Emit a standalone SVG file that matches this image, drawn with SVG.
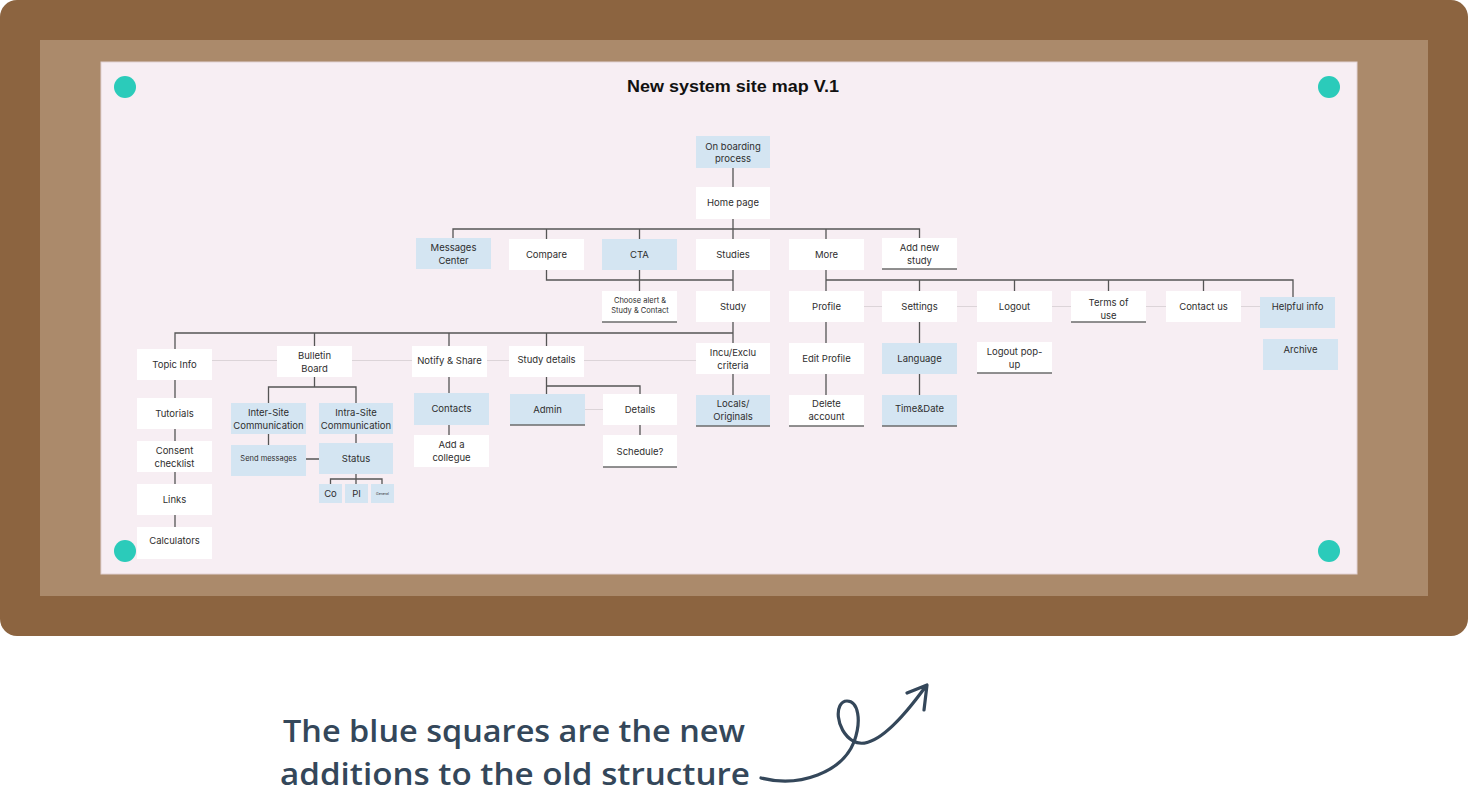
<svg xmlns="http://www.w3.org/2000/svg" width="1468" height="795" viewBox="0 0 1468 795">
<style>
.b{fill:#ffffff}
.n{fill:#d4e5f2}
.u{stroke:#6b6b6b;stroke-width:1.5}
.t{font-family:Inter,Roboto,"Liberation Sans",sans-serif;font-size:9.5px;fill:#2e2e2e;text-anchor:middle}
.s{font-size:7.5px}
.c{stroke:#555;stroke-width:1.3;fill:none}
.l{stroke:#dcd4d8;stroke-width:1.2;fill:none}
.pin{fill:#2bcbba}
.hand{font-family:"Open Sans","DejaVu Sans",sans-serif;font-size:31px;font-weight:600;fill:#34475a}
</style>
<rect x="0" y="0" width="1468" height="636" rx="17" fill="#8c6440"/>
<rect x="40" y="40" width="1388" height="556" fill="#ab8a6b"/>
<rect x="101" y="62" width="1256" height="512" fill="#f7eef3" stroke="#e2d2d4" stroke-width="1"/>
<circle class="pin" cx="125" cy="87" r="11"/>
<circle class="pin" cx="1329" cy="87" r="11"/>
<circle class="pin" cx="125" cy="551" r="11"/>
<circle class="pin" cx="1329" cy="551" r="11"/>
<text x="733" y="92" font-family="Liberation Sans,Arial,sans-serif" font-weight="bold" font-size="17" fill="#111" text-anchor="middle" textLength="212" lengthAdjust="spacingAndGlyphs">New system site map V.1</text>

<g id="connectors">
<path class="l" d="M864 306.5H882M957 306.5H977M1052 306.5H1071M1146 306.5H1166M1241 306.5H1260M212 360.5H277M352 360.5H412M487 360.5H509M584 360.5H696M585 409.5H603"/>
<path class="c" d="M733 168V187M733 219V239M453 238V229H919.5V238M546.5 229V239M639.5 229V239M826 229V239"/>
<path class="c" d="M546.5 270V280H733M639.5 270V291M733 270V291M826 270V291M826 280H1293V297M919.5 280V291M1014.5 280V291M1108.5 280V291M1203.5 280V291"/>
<path class="c" d="M733 322V343M175 349V333H733M314.5 333V346M449 333V346M546.5 333V346"/>
<path class="c" d="M175 380V398M175 429V441M175 472V484M175 515V527"/>
<path class="c" d="M314.5 377V387M268.5 403V387H356V403M268.5 434V445M356 434V443M306 459H319M356 474V484M330.5 484V479H382V484"/>
<path class="c" d="M449 377V393M449 425V435M546.5 377V394M546.5 386H640V394M640 425V435M733 374V395"/>
<path class="c" d="M826 322V343M826 374V395M919.5 322V343M919.5 374V395"/>
</g>

<g id="onboarding"><rect class="n" x="696" y="136" width="74" height="32"/><text class="t" x="733" y="150">On boarding</text><text class="t" x="733" y="162">process</text></g>
<g id="homepage"><rect class="b" x="696" y="187" width="74" height="32"/><text class="t" x="733" y="206">Home page</text></g>

<g id="messages"><rect class="n" x="416" y="238" width="75" height="31"/><text class="t" x="453.5" y="251">Messages</text><text class="t" x="453.5" y="264">Center</text></g>
<g id="compare"><rect class="b" x="509" y="239" width="75" height="31"/><text class="t" x="546.5" y="257.5">Compare</text></g>
<g id="cta"><rect class="n" x="602" y="239" width="75" height="31"/><text class="t" x="639.5" y="257.5">CTA</text></g>
<g id="studies"><rect class="b" x="696" y="239" width="74" height="31"/><text class="t" x="733" y="257.5">Studies</text></g>
<g id="more"><rect class="b" x="789" y="239" width="75" height="31"/><text class="t" x="826.5" y="257.5">More</text></g>
<g id="addnew"><rect class="b" x="882" y="238" width="75" height="31"/><path class="u" d="M882 269H957"/><text class="t" x="919.5" y="251">Add new</text><text class="t" x="919.5" y="264">study</text></g>

<g id="choose"><rect class="b" x="602" y="291" width="75" height="31"/><path class="u" d="M602 322H677"/><text class="t s" x="640" y="303">Choose alert &amp;</text><text class="t s" x="640" y="313">Study &amp; Contact</text></g>
<g id="study"><rect class="b" x="696" y="291" width="74" height="31"/><text class="t" x="733" y="309.5">Study</text></g>
<g id="profile"><rect class="b" x="789" y="291" width="75" height="31"/><text class="t" x="826.5" y="309.5">Profile</text></g>
<g id="settings"><rect class="b" x="882" y="291" width="75" height="31"/><text class="t" x="919.5" y="309.5">Settings</text></g>
<g id="logout"><rect class="b" x="977" y="291" width="75" height="31"/><text class="t" x="1014.5" y="309.5">Logout</text></g>
<g id="terms"><rect class="b" x="1071" y="291" width="75" height="31"/><path class="u" d="M1071 322H1146"/><text class="t" x="1108.5" y="306">Terms of</text><text class="t" x="1108.5" y="319">use</text></g>
<g id="contactus"><rect class="b" x="1166" y="291" width="75" height="31"/><text class="t" x="1203.5" y="309.5">Contact us</text></g>
<g id="helpful"><rect class="n" x="1260" y="297" width="75" height="31"/><text class="t" x="1297.5" y="310">Helpful info</text></g>
<g id="archive"><rect class="n" x="1263" y="339" width="75" height="31"/><text class="t" x="1300.5" y="352.5">Archive</text></g>

<g id="topic"><rect class="b" x="137" y="349" width="75" height="31"/><text class="t" x="174.5" y="367.5">Topic Info</text></g>
<g id="bulletin"><rect class="b" x="277" y="346" width="75" height="31"/><text class="t" x="314.5" y="359">Bulletin</text><text class="t" x="314.5" y="372">Board</text></g>
<g id="notify"><rect class="b" x="412" y="346" width="75" height="31"/><text class="t" x="449.5" y="363.5">Notify &amp; Share</text></g>
<g id="studydetails"><rect class="b" x="509" y="346" width="75" height="31"/><text class="t" x="546.5" y="362.5">Study details</text></g>
<g id="incu"><rect class="b" x="696" y="343" width="74" height="31"/><text class="t" x="733" y="356">Incu/Exclu</text><text class="t" x="733" y="369">criteria</text></g>
<g id="editprofile"><rect class="b" x="789" y="343" width="75" height="31"/><text class="t" x="826.5" y="361.5">Edit Profile</text></g>
<g id="language"><rect class="n" x="882" y="343" width="75" height="31"/><text class="t" x="919.5" y="361.5">Language</text></g>
<g id="logoutpopup"><rect class="b" x="977" y="342" width="75" height="31"/><path class="u" d="M977 373H1052"/><text class="t" x="1014.5" y="355">Logout pop-</text><text class="t" x="1014.5" y="368">up</text></g>

<g id="tutorials"><rect class="b" x="137" y="398" width="75" height="31"/><text class="t" x="174.5" y="417">Tutorials</text></g>
<g id="inter"><rect class="n" x="231" y="403" width="75" height="31"/><text class="t" x="268.5" y="416">Inter-Site</text><text class="t" x="268.5" y="428.5">Communication</text></g>
<g id="intra"><rect class="n" x="319" y="403" width="74" height="31"/><text class="t" x="356" y="416">Intra-Site</text><text class="t" x="356" y="428.5">Communication</text></g>
<g id="contacts"><rect class="n" x="414" y="393" width="75" height="32"/><text class="t" x="451.5" y="411.5">Contacts</text></g>
<g id="admin"><rect class="n" x="510" y="394" width="75" height="31"/><path class="u" d="M510 425H585"/><text class="t" x="547.5" y="412.5">Admin</text></g>
<g id="details"><rect class="b" x="603" y="394" width="74" height="31"/><text class="t" x="640" y="412.5">Details</text></g>
<g id="locals"><rect class="n" x="696" y="395" width="74" height="31"/><path class="u" d="M696 426H770"/><text class="t" x="733" y="407">Locals/</text><text class="t" x="733" y="420">Originals</text></g>
<g id="delete"><rect class="b" x="789" y="395" width="75" height="31"/><path class="u" d="M789 426H864"/><text class="t" x="826.5" y="407">Delete</text><text class="t" x="826.5" y="420">account</text></g>
<g id="timedate"><rect class="n" x="882" y="395" width="75" height="31"/><path class="u" d="M882 426H957"/><text class="t" x="919.5" y="412">Time&amp;Date</text></g>

<g id="consent"><rect class="b" x="137" y="441" width="75" height="31"/><text class="t" x="174.5" y="454">Consent</text><text class="t" x="174.5" y="467">checklist</text></g>
<g id="sendmsg"><rect class="n" x="231" y="445" width="75" height="31"/><text class="t s" x="268.5" y="461">Send messages</text></g>
<g id="status"><rect class="n" x="319" y="443" width="74" height="31"/><text class="t" x="356" y="461.5">Status</text></g>
<g id="addcollegue"><rect class="b" x="414" y="435" width="75" height="32"/><text class="t" x="451.5" y="447.5">Add a</text><text class="t" x="451.5" y="460.5">collegue</text></g>
<g id="schedule"><rect class="b" x="603" y="435" width="74" height="32"/><path class="u" d="M603 467H677"/><text class="t" x="640" y="454.5">Schedule?</text></g>

<g id="links"><rect class="b" x="137" y="484" width="75" height="31"/><text class="t" x="174.5" y="502.5">Links</text></g>
<g id="co"><rect class="n" x="319" y="484" width="23" height="19"/><text class="t" x="330.5" y="497">Co</text></g>
<g id="pi"><rect class="n" x="345" y="484" width="23" height="19"/><text class="t" x="356.5" y="497">PI</text></g>
<g id="general"><rect class="n" x="371" y="484" width="23" height="19"/><text class="t" x="382.5" y="495" style="font-size:3.5px">General</text></g>
<g id="calculators"><rect class="b" x="137" y="527" width="75" height="32"/><text class="t" x="174.5" y="544">Calculators</text></g>

<g id="note">
<text class="hand" x="283" y="742" textLength="462" lengthAdjust="spacingAndGlyphs">The blue squares are the new</text>
<text class="hand" x="280" y="785" textLength="470" lengthAdjust="spacingAndGlyphs">additions to the old structure</text>
<path d="M761 778C800 788 842 772 854 742C862 720 858 701 847 701C834 701 835 730 853 741C872 752 900 722 926 686M907 693L927 685L924 710" fill="none" stroke="#34475a" stroke-width="3.2" stroke-linecap="round" stroke-linejoin="round"/>
</g>
</svg>
